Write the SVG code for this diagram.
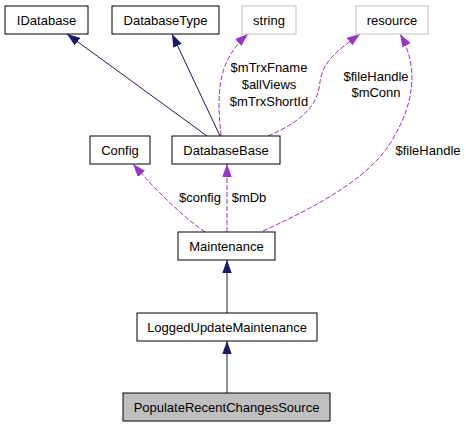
<svg xmlns="http://www.w3.org/2000/svg" width="467" height="427" viewBox="0 0 467 427">
<style>
.box rect{fill:#fff;stroke:#000;stroke-width:1}
.box.ext rect{stroke:#bfbfbf}
.box.cur rect{fill:#bfbfbf}
text{font-family:"Liberation Sans",Arial,sans-serif;font-size:13px;fill:#000;text-anchor:middle}
.inh{fill:none;stroke:#191970;stroke-width:1}
.use{fill:none;stroke:#9a32cd;stroke-width:1;stroke-dasharray:5,2}
</style>
<defs>
<marker id="an" markerUnits="userSpaceOnUse" markerWidth="13" markerHeight="10" refX="13" refY="5" orient="auto"><path d="M0,0.3 L13,5 L0,9.7 z" fill="#191970"/></marker>
<marker id="ap" markerUnits="userSpaceOnUse" markerWidth="13" markerHeight="10" refX="13" refY="5" orient="auto"><path d="M0,0.3 L13,5 L0,9.7 z" fill="#9a32cd"/></marker>
</defs>
<g id="connectors">
<path class="inh" d="M207,136 L67,34" marker-end="url(#an)"/>
<path class="inh" d="M220,136 L172,34" marker-end="url(#an)"/>
<path class="use" d="M221,136 C217,95 216,62 248,34" marker-end="url(#ap)"/>
<path class="use" d="M268,136 C310,118 318,100 320,82 C322,62 338,50 360,34" marker-end="url(#ap)"/>
<path class="use" d="M263,231 C320,205 375,175 395,135 C415,100 418,65 400,34" marker-end="url(#ap)"/>
<path class="use" d="M205,232 C185,218 160,195 133,164" marker-end="url(#ap)"/>
<path class="use" d="M227,232 L227,164" marker-end="url(#ap)"/>
<path class="inh" d="M227,313 L227,260" marker-end="url(#an)"/>
<path class="inh" d="M227,393 L227,341" marker-end="url(#an)"/>
<text x="269" y="72">$mTrxFname</text>
<text x="269" y="89">$allViews</text>
<text x="269" y="106">$mTrxShortId</text>
<text x="376" y="81">$fileHandle</text>
<text x="376" y="97">$mConn</text>
<text x="428" y="155">$fileHandle</text>
<text x="200" y="202">$config</text>
<text x="249" y="202">$mDb</text>
</g>
<g id="IDatabase" class="box"><rect x="5" y="6" width="83" height="28"/><text x="46.5" y="24.5">IDatabase</text></g>
<g id="DatabaseType" class="box"><rect x="112" y="6" width="107" height="28"/><text x="165.5" y="24.5">DatabaseType</text></g>
<g id="string" class="box ext"><rect x="242" y="6" width="54" height="28"/><text x="269" y="24.5">string</text></g>
<g id="resource" class="box ext"><rect x="356" y="6" width="72" height="28"/><text x="392" y="24.5">resource</text></g>
<g id="Config" class="box"><rect x="90" y="136" width="60" height="28"/><text x="120" y="154.5">Config</text></g>
<g id="DatabaseBase" class="box"><rect x="172" y="136" width="108" height="28"/><text x="226" y="154.5">DatabaseBase</text></g>
<g id="Maintenance" class="box"><rect x="178" y="232" width="97" height="28"/><text x="226.5" y="250.5">Maintenance</text></g>
<g id="LoggedUpdateMaintenance" class="box"><rect x="137" y="313" width="180" height="28"/><text x="227" y="331.5">LoggedUpdateMaintenance</text></g>
<g id="PopulateRecentChangesSource" class="box cur"><rect x="123" y="393" width="207" height="28"/><text x="226.5" y="411.5">PopulateRecentChangesSource</text></g>
</svg>
